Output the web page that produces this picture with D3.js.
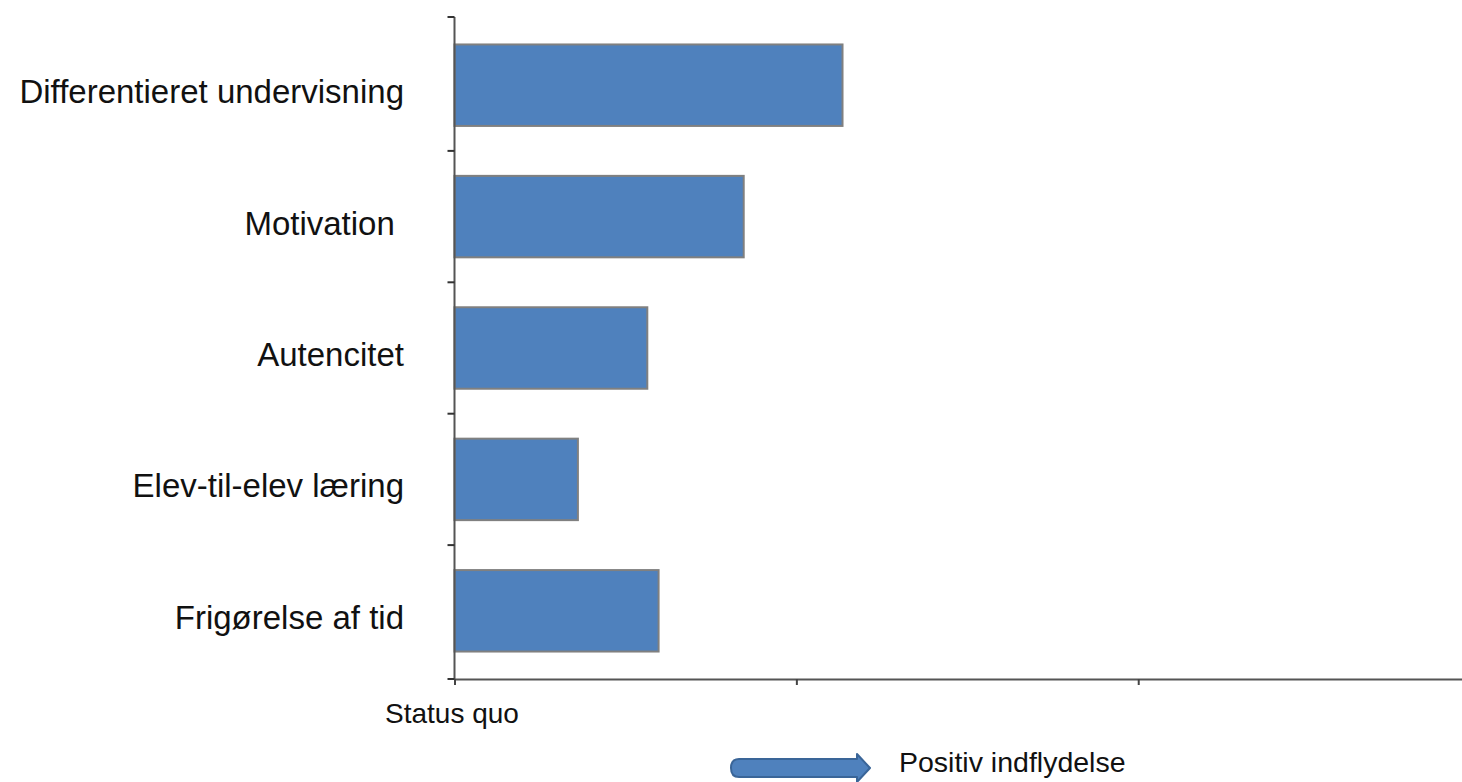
<!DOCTYPE html>
<html>
<head>
<meta charset="utf-8">
<script src="https://cdn.jsdelivr.net/npm/d3@7"></script>
<style>
  body { margin: 0; background: #fff; }
  text { font-family: "Liberation Sans", Arial, sans-serif; fill: #111; }
</style>
</head>
<body>
<div id="chart"></div>
<script>
const categories = ["Differentieret undervisning", "Motivation ", "Autencitet", "Elev-til-elev læring", "Frigørelse af tid"]
const values = [1.135, 0.846, 0.564, 0.361, 0.597]
const xTicks = [0, 1, 2]
const xLabel = "Status quo"
const arrowLabel = "Positiv indflydelse"

const width = 1462
const height = 782

const svg = d3.select("#chart").append("svg")
    .attr("width", width)
    .attr("height", height)

// x goes a little past 2 and is cut by the window edge
const x = d3.scaleLinear()
    .domain([0, 2.95])
    .range([454.5, 1462 + 1])

const y = d3.scaleBand()
    .domain(categories)
    .range([17, 679])
    .paddingInner(0.38)
    .paddingOuter(0.209)

// bars
svg.append("g")
    .selectAll("rect")
    .data(values)
    .enter()
    .append("rect")
    .attr("x", x(0))
    .attr("y", (d, i) => y(categories[i]))
    .attr("width", d => x(d) - x(0))
    .attr("height", y.bandwidth())
    .attr("fill", "#4f81bd")
    .attr("stroke", "#808080")
    .attr("stroke-width", 2)

// y axis: ticks on band boundaries
const yBounds = categories.map(c => y(c) - y.step() * y.paddingInner() / 2)
yBounds[0] = 17
yBounds.push(679)
const yAxis = svg.append("g")
yAxis.append("line")
    .attr("x1", x(0)).attr("x2", x(0))
    .attr("y1", 17).attr("y2", 679)
    .attr("stroke", "#555").attr("stroke-width", 2)
yAxis.selectAll("line.tick")
    .data(yBounds)
    .enter()
    .append("line")
    .attr("class", "tick")
    .attr("x1", x(0) - 7).attr("x2", x(0))
    .attr("y1", d => d).attr("y2", d => d)
    .attr("stroke", "#333").attr("stroke-width", 2)

// category labels
svg.append("g")
    .selectAll("text")
    .data(categories)
    .enter()
    .append("text")
    .attr("x", 404)
    .attr("y", d => y(d) + y.bandwidth() / 2 + 18)
    .attr("text-anchor", "end")
    .style("white-space", "pre")
    .style("font-size", "33px")
    .text(d => d)

// x axis
const xAxis = svg.append("g")
    .attr("transform", "translate(0,679)")
    .call(d3.axisBottom(x).tickValues(xTicks).tickSize(6).tickSizeOuter(0).tickFormat(""))
xAxis.select(".domain").attr("stroke", "#555").attr("stroke-width", 2)
xAxis.selectAll(".tick line").attr("stroke", "#444").attr("stroke-width", 2)

svg.append("text")
    .attr("x", 385)
    .attr("y", 723)
    .style("font-size", "28px")
    .text(xLabel)

// arrow for "positive influence"
const arrow = d3.path()
arrow.moveTo(739, 759)
arrow.lineTo(857, 759)
arrow.lineTo(857, 754)
arrow.lineTo(870, 768)
arrow.lineTo(857, 782)
arrow.lineTo(857, 777)
arrow.lineTo(739, 777)
arrow.quadraticCurveTo(731, 777, 731, 768)
arrow.quadraticCurveTo(731, 759, 739, 759)
arrow.closePath()
svg.append("path")
    .attr("d", arrow.toString())
    .attr("fill", "#4f81bd")
    .attr("stroke", "#3a6598")
    .attr("stroke-width", 2)
    .attr("stroke-linejoin", "round")

svg.append("text")
    .attr("x", 899)
    .attr("y", 772)
    .style("font-size", "28.5px")
    .text(arrowLabel)
</script>
</body>
</html>
